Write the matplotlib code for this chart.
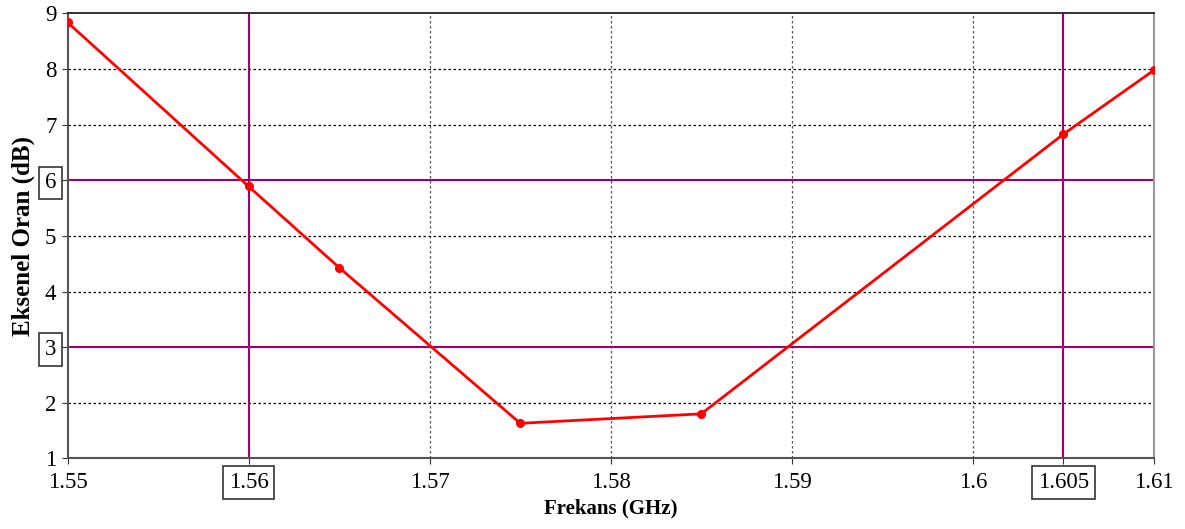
import matplotlib
matplotlib.use("Agg")
import matplotlib.pyplot as plt

freq = [1.55, 1.56, 1.565, 1.575, 1.585, 1.605, 1.61]
axial_ratio = [8.84, 5.89, 4.43, 1.63, 1.80, 6.83, 7.98]
x_ticks = [1.55, 1.56, 1.57, 1.58, 1.59, 1.6, 1.605, 1.61]
x_labels = ["1.55", "1.56", "1.57", "1.58", "1.59", "1.6", "1.605", "1.61"]
y_ticks = [1, 2, 3, 4, 5, 6, 7, 8, 9]
marker_x = [1.56, 1.605]
marker_y = [3, 6]

plt.rcParams['font.family'] = ['Liberation Serif', 'DejaVu Serif']
fig = plt.figure(figsize=(11.85, 5.29), dpi=100)
ax = fig.add_axes([0.057, 0.1336, 0.9168, 0.8409])
ax.set_xlim(1.55, 1.61)
ax.set_ylim(1, 9)

mag = '#A0006E'
for x in x_ticks:
    if x not in marker_x and x not in (1.55, 1.61):
        ax.axvline(x, color='#555555', linestyle=(0, (2, 2)), linewidth=0.9, zorder=1)
for y in y_ticks:
    if y not in marker_y and y not in (1, 9):
        ax.axhline(y, color='black', linestyle=(0, (2, 2)), linewidth=0.9, zorder=1)
for x in marker_x:
    ax.axvline(x, color=mag, linewidth=1.5, zorder=2)
for y in marker_y:
    ax.axhline(y, color=mag, linewidth=1.5, zorder=2)

ax.plot(freq, axial_ratio, color='#FF0000', linewidth=2, marker='o', markersize=5.5, zorder=3)

ax.set_xticks(x_ticks)
ax.set_xticklabels(x_labels)
ax.set_yticks(y_ticks)
ax.set_yticklabels([str(v) for v in y_ticks])
ax.tick_params(axis='both', labelsize=16.5, length=4, color='#333333', direction='out')
ax.tick_params(axis='x', pad=6)
ax.tick_params(axis='y', pad=4)

for lbl in ax.get_xticklabels():
    if lbl.get_text() in ("1.56", "1.605"):
        lbl.set_bbox(dict(boxstyle='square,pad=0.25', fc='white', ec='#333333', lw=1.2))
for lbl in ax.get_yticklabels():
    if lbl.get_text() in ("3", "6"):
        lbl.set_bbox(dict(boxstyle='square,pad=0.25', fc='white', ec='#333333', lw=1.2))

for s in ['left', 'bottom']:
    ax.spines[s].set_color('#555555')
    ax.spines[s].set_linewidth(1.5)
ax.spines['top'].set_color('#222222')
ax.spines['top'].set_linewidth(1.3)
ax.spines['right'].set_color('#999999')
ax.spines['right'].set_linewidth(1.5)

ax.set_xlabel('Frekans (GHz)', fontsize=15, fontweight='bold', labelpad=4)
ax.set_ylabel('Eksenel Oran (dB)', fontsize=18, fontweight='bold', labelpad=7)

fig.savefig('out.png', dpi=100)
